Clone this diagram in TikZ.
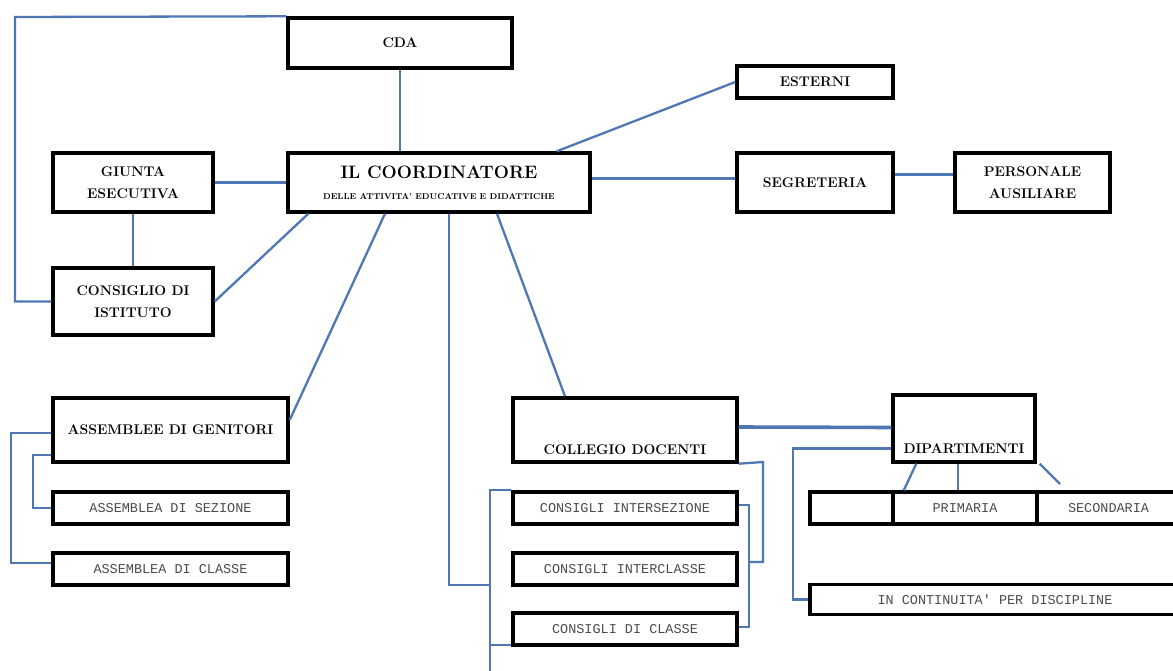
\documentclass[tikz,border=0pt]{standalone}
\usepackage{fontspec}
\newfontfamily\monof{Liberation Mono}
\definecolor{conn}{RGB}{79,119,180}
\begin{document}
\begin{tikzpicture}[x=1pt,y=-1pt,
  box/.style={draw=black, line width=3.4pt, fill=white, inner sep=0pt, align=center, font=\bfseries\fontsize{14}{22}\selectfont},
  mbox/.style={draw=black, line width=3.4pt, fill=white, inner sep=0pt, align=center, font=\monof\fontsize{13.5}{16}\selectfont, text=black!70},
  link/.style={draw=conn, line width=2.3pt},
  tlink/.style={draw=conn, line width=3.6pt}]
\clip (0,0) rectangle (1173,671);
\fill[white] (0,0) rectangle (1173,671);

% top nodes
\node[box, minimum width=224, minimum height=50] (cda) at (400,43) {CDA};
\node[box, minimum width=302, minimum height=59] (coord) at (439,182.5)
  {{\fontsize{18}{18}\selectfont IL COORDINATORE}\\[-1pt]{\fontsize{8.5}{8.5}\selectfont DELLE ATTIVITA' EDUCATIVE E DIDATTICHE}};
\node[box, minimum width=160, minimum height=59] (giunta) at (133,182.5) {GIUNTA\\ESECUTIVA};
\node[box, minimum width=160, minimum height=67] (consiglio) at (133,301.5) {CONSIGLIO DI\\ISTITUTO};
\node[box, minimum width=156, minimum height=32] (esterni) at (815,82) {ESTERNI};
\node[box, minimum width=156, minimum height=59] (segreteria) at (815,182.5) {SEGRETERIA};
\node[box, minimum width=155, minimum height=59] (personale) at (1032.5,182.5) {PERSONALE\\AUSILIARE};

% left lower
\node[box, minimum width=235, minimum height=64] (genitori) at (170.5,430) {ASSEMBLEE DI GENITORI};
\node[mbox, minimum width=235, minimum height=32] (sezione) at (170.5,508) {ASSEMBLEA DI SEZIONE};
\node[mbox, minimum width=235, minimum height=32] (classeA) at (170.5,569) {ASSEMBLEA DI CLASSE};

% middle lower
\node[box, minimum width=224, minimum height=64, label={[yshift=-20pt, font=\bfseries\fontsize{14}{16}\selectfont]center:COLLEGIO DOCENTI}] (collegio) at (625,430) {};
\node[mbox, minimum width=224, minimum height=32] (inters) at (625,508) {CONSIGLI INTERSEZIONE};
\node[mbox, minimum width=224, minimum height=32] (intercl) at (625,569) {CONSIGLI INTERCLASSE};
\node[mbox, minimum width=224, minimum height=32] (consclasse) at (625,629) {CONSIGLI DI CLASSE};

% right lower
\node[box, minimum width=142, minimum height=67, label={[yshift=-20pt, font=\bfseries\fontsize{14}{16}\selectfont]center:DIPARTIMENTI}] (dipart) at (964,428.5) {};
\node[mbox, minimum width=83, minimum height=32] (row1) at (851.5,508) {};
\node[mbox, minimum width=144, minimum height=32] (row2) at (965,508) {PRIMARIA};
\node[mbox, minimum width=143, minimum height=32] (row3) at (1108.5,508) {SECONDARIA};
\node[mbox, minimum width=370, minimum height=30] (contin) at (995,599.5) {IN CONTINUITA' PER DISCIPLINE};

% connectors
\coordinate (loopc) at (15,17);
\draw[link] (cda.south) -- (cda.south |- coord.north);
\draw[link] (cda.north west) -- (loopc) |- (consiglio.west);
\draw[tlink] (giunta.east) -- (coord.west);
\draw[link] (giunta.south) -- (consiglio.north);
\draw[link] (consiglio.east) -- ([xshift=22]coord.south west);
\draw[link] ([xshift=-54]coord.south) -- ([yshift=10]genitori.east);
\draw[link] ([xshift=58]coord.south) -- ([xshift=-60]collegio.north);
\draw[link] ([yshift=4]coord.east) -- ([yshift=4]segreteria.west);
\draw[tlink] ([yshift=8]segreteria.east) -- ([yshift=8]personale.west);
\draw[link] ([xshift=-35]coord.north east) -- (esterni.west);

% vertical bus to consigli
\coordinate (vbus) at (490,585);
\coordinate (vbot) at (490,680);
\draw[link] ([xshift=10]coord.south) |- (vbus);
\draw[link] (inters.north west) -- (inters.north west -| vbus) -- (vbot);
\draw[link] ([yshift=2]consclasse.south west) -- ([yshift=2]consclasse.south west -| vbus);

% collegio brackets
\coordinate (br1) at (763,462);
\draw[link] (collegio.south east) -- (br1) |- ([xshift=10,yshift=7]intercl.east);
\draw[link] ([yshift=3]inters.east) -- ++(10,0) |- ([yshift=2]consclasse.east);

% collegio - dipartimenti
\draw[tlink] ([yshift=3]collegio.east) -- ([yshift=1]dipart.west);
\draw[link] ([yshift=-20]dipart.west) -- ++(-98,0) |- (contin.west);
\coordinate (d3) at (1060,484);
\draw[link] ([xshift=25]dipart.south west) -- ([xshift=9]row1.north east);
\draw[link] ([xshift=-6]dipart.south) -- ([xshift=-6]dipart.south |- row2.north);
\draw[link] ([xshift=3]dipart.south east) -- (d3);

% assemblee brackets
\draw[link] ([yshift=-3]genitori.west) -- ++(-40,0) |- ([yshift=6]classeA.west);
\draw[link] ([yshift=-25]genitori.west) -- ++(-18,0) |- (sezione.west);
\end{tikzpicture}
\end{document}
